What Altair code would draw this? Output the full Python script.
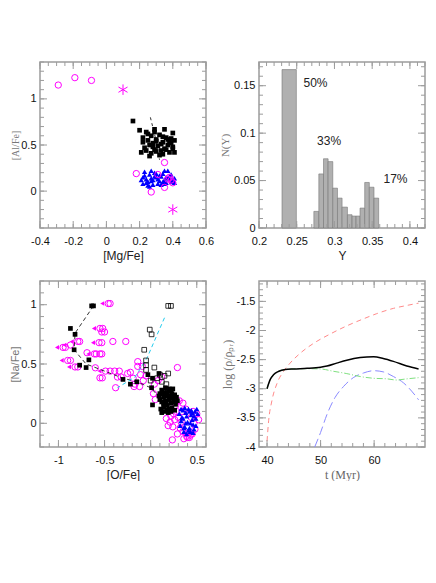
import altair as alt
import pandas as pd

# ---------------- Panel 1 : [Mg/Fe] vs [Al/Fe] ----------------
p1_circ_mg = [-0.29, -0.19, -0.09, 0.18, 0.27, 0.31, 0.35, 0.35, 0.37, 0.39, 0.40, 0.38]
p1_circ_al = [1.15, 1.23, 1.20, 0.19, -0.01, 0.18, 0.31, 0.04, 0.13, 0.12, 0.09, 0.15]
p1_star_mg = [0.10, 0.40]
p1_star_al = [1.10, -0.20]
p1_sq_mg = [0.16, 0.20, 0.24, 0.29, 0.35, 0.40, 0.39, 0.22, 0.25, 0.27, 0.30, 0.32, 0.34, 0.36, 0.38,
            0.41, 0.26, 0.28, 0.31, 0.33, 0.37, 0.23, 0.29, 0.35, 0.40, 0.21, 0.24, 0.27, 0.30, 0.34,
            0.38, 0.41, 0.26, 0.32, 0.36, 0.25, 0.28, 0.33, 0.39, 0.22, 0.30, 0.37, 0.34, 0.29, 0.40]
p1_sq_al = [0.76, 0.66, 0.64, 0.67, 0.67, 0.63, 0.57, 0.58, 0.55, 0.60, 0.56, 0.61, 0.53, 0.58, 0.54,
            0.55, 0.50, 0.52, 0.49, 0.51, 0.50, 0.47, 0.45, 0.46, 0.48, 0.42, 0.44, 0.41, 0.43, 0.40,
            0.42, 0.42, 0.38, 0.39, 0.45, 0.62, 0.48, 0.44, 0.52, 0.53, 0.54, 0.56, 0.59, 0.64, 0.46]
p1_tri_mg = [0.21, 0.23, 0.25, 0.27, 0.29, 0.31, 0.33, 0.35, 0.37, 0.39, 0.41, 0.22, 0.24, 0.26, 0.28,
             0.30, 0.32, 0.34, 0.36, 0.38, 0.40, 0.23, 0.25, 0.27, 0.29, 0.31, 0.33, 0.35, 0.37, 0.39,
             0.41, 0.22, 0.26, 0.30, 0.34, 0.38, 0.24, 0.28, 0.32, 0.36, 0.40, 0.27, 0.35]
p1_tri_al = [0.12, 0.17, 0.10, 0.14, 0.20, 0.08, 0.16, 0.12, 0.22, 0.10, 0.14, 0.08, 0.13, 0.18, 0.07,
             0.15, 0.11, 0.19, 0.09, 0.16, 0.12, 0.21, 0.06, 0.11, 0.16, 0.13, 0.07, 0.22, 0.14, 0.18,
             0.09, 0.15, 0.05, 0.19, 0.10, 0.13, 0.09, 0.12, 0.17, 0.15, 0.11, 0.22, 0.08]
p1_line_mg = [0.265, 0.295, 0.32]
p1_line_al = [0.80, 0.58, 0.34]

# ---------------- Panel 2 : histogram N(Y) ----------------
hist_y0 = [0.2305, 0.2727, 0.2793, 0.2855, 0.2916, 0.2978, 0.3040, 0.3101, 0.3172, 0.3233, 0.3286,
           0.3339, 0.3401, 0.3462, 0.3524]
hist_y1 = [0.2495, 0.2793, 0.2855, 0.2916, 0.2978, 0.3040, 0.3101, 0.3172, 0.3233, 0.3286, 0.3339,
           0.3401, 0.3462, 0.3524, 0.3586]
hist_n = [0.167, 0.0175, 0.057, 0.073, 0.070, 0.042, 0.0315, 0.022, 0.014, 0.0126, 0.0126,
          0.021, 0.048, 0.043, 0.0315]
pct_text = ["50%", "33%", "17%"]
pct_x = [0.259, 0.277, 0.365]
pct_y = [0.153, 0.0915, 0.0512]

# ---------------- Panel 3 : [O/Fe] vs [Na/Fe] ----------------
p3_sq_o = [-0.64, -0.62, -0.87, -0.82, -0.83, -0.67, -0.77, -0.70, -0.30, -0.22, -0.15, -0.03, 0.02,
           0.09, 0.01, 0.09, 0.02,
           0.10, 0.12, 0.14, 0.16, 0.18, 0.20, 0.22, 0.24, 0.12, 0.14, 0.16, 0.18, 0.20, 0.22, 0.24,
           0.26, 0.11, 0.15, 0.19, 0.23, 0.27, 0.13, 0.17, 0.21, 0.25, 0.28, 0.10, 0.14, 0.18, 0.22,
           0.26, 0.20, 0.15, 0.17, 0.29, 0.23, 0.12]
p3_sq_na = [0.99, 0.99, 0.80, 0.75, 0.62, 0.535, 0.49, 0.47, 0.37, 0.33, 0.35, 0.41, 0.38,
            0.42, 0.30, 0.23, 0.155,
            0.25, 0.28, 0.22, 0.30, 0.26, 0.20, 0.27, 0.29, 0.18, 0.14, 0.19, 0.15, 0.12, 0.17, 0.21,
            0.24, 0.12, 0.10, 0.09, 0.13, 0.16, 0.25, 0.23, 0.23, 0.18, 0.22, 0.20, 0.17, 0.11, 0.10,
            0.11, 0.29, 0.26, 0.17, 0.19, 0.25, 0.09]
p3_open_o = [0.19, 0.22, -0.01, 0.01, -0.07, -0.05, -0.05, 0.04, 0.19, 0.15, 0.00, 0.07, 0.12, 0.17,
             0.10, -0.05]
p3_open_na = [0.99, 0.99, 0.79, 0.75, 0.62, 0.53, 0.49, 0.47, 0.42, 0.40, 0.36, 0.38, 0.35, 0.33,
              0.41, 0.45]
p3_track_o = [-0.62, -0.82, -0.83, -0.70, -0.50, -0.30, -0.15, 0.0, 0.07]
p3_track_na = [0.99, 0.76, 0.62, 0.50, 0.44, 0.38, 0.35, 0.30, 0.24]
p3_cyan_o = [0.15, -0.04, -0.17, -0.36]
p3_cyan_na = [0.89, 0.55, 0.39, 0.30]
p3_circ_o = [-0.46, -0.44, -0.55, -0.52, -0.53, -0.50, -0.56, -0.53, -0.79, -0.77, -0.95, -0.925,
             -0.87, -0.61, -0.59, -0.55, -0.53, -0.90, -0.87, -0.82, -0.79, -0.49, -0.44,
             -0.41, -0.27, -0.69, -0.60, -0.39, -0.34, -0.55, -0.525, -0.36, -0.32, -0.38, -0.22,
             -0.19, -0.12, -0.14, -0.14, -0.09, -0.17, -0.11, -0.05, 0.04, 0.03, 0.29, 0.08, 0.12,
             -0.25, -0.08, 0.05, -0.18,
             0.235, 0.21, 0.19, 0.32, 0.39, 0.42, 0.52, 0.50, 0.31, 0.28, 0.30, 0.26, 0.24, 0.35,
             0.45, 0.47, 0.38, 0.44, 0.48, 0.36, 0.27, 0.22, 0.33, 0.41, 0.29, 0.46, 0.17, 0.35,
             0.40, 0.43, 0.25, 0.34]
p3_circ_na = [1.01, 1.01, 0.80, 0.80, 0.77, 0.77, 0.68, 0.68, 0.69, 0.69, 0.64, 0.64,
              0.66, 0.585, 0.585, 0.585, 0.585, 0.53, 0.53, 0.475, 0.475, 0.44, 0.44,
              0.69, 0.69, 0.595, 0.468, 0.44, 0.44, 0.383, 0.383, 0.39, 0.39, 0.30, 0.43,
              0.38, 0.31, 0.52, 0.48, 0.48, 0.33, 0.41, 0.40, 0.33, 0.25, 0.47, 0.36, 0.39,
              0.42, 0.36, 0.20, 0.31,
              -0.14, 0.01, -0.02, -0.04, -0.11, -0.12, 0.03, 0.08, 0.19, 0.10, 0.05, 0.03, -0.03,
              -0.07, -0.09, 0.00, 0.12, 0.05, -0.05, -0.13, 0.15, 0.06, 0.01, -0.08, -0.09, 0.10,
              0.04, 0.17, -0.12, -0.10, 0.08, 0.10]
p3_lim_o = [-0.46, -0.55, -0.56, -0.79, -0.95, -0.87, -0.61, -0.90, -0.82, -0.49]
p3_lim_na = [1.01, 0.80, 0.68, 0.69, 0.64, 0.66, 0.585, 0.53, 0.475, 0.44]
p3_tri_o = [0.31, 0.33, 0.35, 0.37, 0.39, 0.41, 0.43, 0.45, 0.47, 0.49, 0.32, 0.34, 0.36, 0.38, 0.40,
            0.42, 0.44, 0.46, 0.48, 0.50, 0.33, 0.37, 0.41, 0.45, 0.49, 0.35, 0.39, 0.43, 0.47, 0.51,
            0.38, 0.42, 0.46, 0.36, 0.44]
p3_tri_na = [0.08, 0.02, 0.11, -0.03, 0.06, 0.12, 0.00, 0.09, -0.05, 0.04, -0.02, 0.05, -0.07, 0.09,
             0.01, -0.04, 0.07, -0.08, 0.10, 0.12, 0.12, 0.13, -0.06, 0.03, -0.02, 0.04, -0.09, -0.07,
             0.06, 0.08, 0.00, 0.10, -0.01, -0.04, 0.11]

# ---------------- Panel 4 : log density vs time ----------------
blk_t = [40, 40.6, 41.2, 42.2, 43.4, 45, 47.5, 50, 51.2, 53, 54.9, 57.4, 59.9, 61.7, 63.6, 66.1, 68.3]
blk_v = [-3.0, -2.84, -2.76, -2.70, -2.67, -2.66, -2.65, -2.63, -2.61, -2.56, -2.51, -2.465, -2.45,
         -2.48, -2.53, -2.61, -2.66]
grn_t = [40, 40.6, 41.2, 42.2, 43.4, 45, 47.5, 50, 52.4, 54.9, 57.4, 59.9, 62.4, 64.2, 66.1, 68.3]
grn_v = [-3.0, -2.84, -2.76, -2.70, -2.67, -2.66, -2.655, -2.66, -2.70, -2.74, -2.79, -2.82, -2.83,
         -2.85, -2.83, -2.81]
red_t = [40, 40.3, 40.9, 41.9, 43.1, 44.3, 46.2, 48.7, 51.8, 54.9, 58, 60.5, 63.6, 66.1, 68.3]
red_v = [-3.9, -3.55, -3.21, -2.90, -2.70, -2.56, -2.39, -2.22, -2.06, -1.92, -1.80, -1.71, -1.62,
         -1.57, -1.53]
blu_t = [48.9, 50, 51.2, 52.7, 54.3, 56.1, 58, 59.9, 61.7, 63.6, 65.5, 67, 68.3]
blu_v = [-4.0, -3.75, -3.44, -3.15, -2.96, -2.81, -2.73, -2.69, -2.71, -2.79, -2.90, -3.04, -3.19]

# ---------------- styling helpers ----------------
GRAY = "#9c9c9c"
W, H = 166, 166
SANS = "Liberation Sans"
SERIF = "Liberation Serif"


def frange(a, b, step):
    n = int(round((b - a) / step))
    return [round(a + i * step, 6) for i in range(n + 1)]


def tick_layers(sx, sy, ax_x, ax_y, xmaj, xmin, ymaj, ymin):
    out = []
    for vals, ln in ((xmaj, 7), (xmin, 4)):
        d = pd.DataFrame({"x": vals})
        out.append(alt.Chart(d).mark_rule(color=GRAY, strokeWidth=1).encode(
            x=alt.X("x:Q", scale=sx, axis=ax_x), y=alt.value(H), y2=alt.value(H - ln)))
        out.append(alt.Chart(d).mark_rule(color=GRAY, strokeWidth=1).encode(
            x=alt.X("x:Q", scale=sx, axis=ax_x), y=alt.value(0), y2=alt.value(ln)))
    for vals, ln in ((ymaj, 7), (ymin, 4)):
        d = pd.DataFrame({"y": vals})
        out.append(alt.Chart(d).mark_rule(color=GRAY, strokeWidth=1).encode(
            y=alt.Y("y:Q", scale=sy, axis=ax_y), x=alt.value(0), x2=alt.value(ln)))
        out.append(alt.Chart(d).mark_rule(color=GRAY, strokeWidth=1).encode(
            y=alt.Y("y:Q", scale=sy, axis=ax_y), x=alt.value(W), x2=alt.value(W - ln)))
    return out


def xax(title, values, font=SANS, color="#222", size=12):
    return alt.Axis(title=title, values=values, labelExpr="datum.value + ''", titleFont=font,
                    titleColor=color, titleFontSize=size, titleFontWeight="normal",
                    labelFlush=False, labelOverlap=False, labelPadding=7, titlePadding=4)


def yax(title, values, font=SANS, color="#777", size=11, tpad=0):
    return alt.Axis(title=title, values=values, labelExpr="datum.value + ''", titleFont=font,
                    titleColor=color, titleFontSize=size, titleFontWeight="normal",
                    labelFlush=False, labelOverlap=False, labelPadding=4, titlePadding=tpad)


# ---------- panel 1 ----------
sx1 = alt.Scale(domain=[-0.4, 0.6], nice=False, zero=False)
sy1 = alt.Scale(domain=[-0.4, 1.4], nice=False, zero=False)
ax1 = xax("[Mg/Fe]", [-0.4, -0.2, 0, 0.2, 0.4, 0.6])
ay1 = yax("[Al/Fe]", [0, 0.5, 1], font=SERIF, size=10)
X1 = lambda f: alt.X(f, type="quantitative", scale=sx1, axis=ax1)
Y1 = lambda f: alt.Y(f, type="quantitative", scale=sy1, axis=ay1)

p1 = alt.layer(
    alt.Chart(pd.DataFrame({"x": p1_sq_mg, "y": p1_sq_al})).mark_square(
        color="black", size=22, opacity=1).encode(x=X1("x"), y=Y1("y")),
    alt.Chart(pd.DataFrame({"x": p1_line_mg, "y": p1_line_al})).mark_line(
        color="black", strokeWidth=0.8, strokeDash=[3, 3]).encode(x=X1("x"), y=Y1("y")),
    alt.Chart(pd.DataFrame({"x": p1_tri_mg, "y": p1_tri_al})).mark_point(
        shape="triangle-up", filled=True, color="blue", size=28, opacity=1).encode(x=X1("x"), y=Y1("y")),
    alt.Chart(pd.DataFrame({"x": p1_circ_mg, "y": p1_circ_al})).mark_point(
        shape="circle", filled=False, color="magenta", size=40, strokeWidth=1, opacity=1).encode(
        x=X1("x"), y=Y1("y")),
    alt.Chart(pd.DataFrame({"x": p1_star_mg, "y": p1_star_al})).mark_point(
        shape="M0,-1L0,1M-0.866,-0.5L0.866,0.5M-0.866,0.5L0.866,-0.5", filled=False,
        color="magenta", size=110, strokeWidth=1, opacity=1).encode(x=X1("x"), y=Y1("y")),
    *tick_layers(sx1, sy1, ax1, ay1, frange(-0.4, 0.6, 0.2), frange(-0.4, 0.6, 0.05),
                 [0, 0.5, 1.0], frange(-0.4, 1.4, 0.1)),
).properties(width=W, height=H)

# ---------- panel 2 ----------
sx2 = alt.Scale(domain=[0.2, 0.42], nice=False, zero=False)
sy2 = alt.Scale(domain=[0, 0.175], nice=False, zero=False)
ax2 = xax("Y", [0.2, 0.25, 0.3, 0.35, 0.4])
ay2 = yax("N(Y)", [0, 0.05, 0.1, 0.15], font=SERIF, size=11, tpad=3)
hist = pd.DataFrame({"x": hist_y0, "x2": hist_y1, "y": hist_n})
pct = pd.DataFrame({"x": pct_x, "y": pct_y, "t": pct_text})
p2 = alt.layer(
    alt.Chart(hist).mark_rect(fill="#b0b0b0", stroke="#777777", strokeWidth=0.6).encode(
        x=alt.X("x:Q", scale=sx2, axis=ax2),
        x2="x2:Q",
        y=alt.Y("y:Q", scale=sy2, axis=ay2),
        y2=alt.datum(0)),
    alt.Chart(pct).mark_text(align="left", baseline="middle", fontSize=12, font=SANS,
                             color="#222").encode(
        x=alt.X("x:Q", scale=sx2, axis=ax2), y=alt.Y("y:Q", scale=sy2, axis=ay2), text="t:N"),
    *tick_layers(sx2, sy2, ax2, ay2, frange(0.2, 0.4, 0.05), frange(0.2, 0.42, 0.01),
                 frange(0, 0.15, 0.05), frange(0, 0.17, 0.01)),
).properties(width=W, height=H)

# ---------- panel 3 ----------
sx3 = alt.Scale(domain=[-1.2, 0.6], nice=False, zero=False)
sy3 = alt.Scale(domain=[-0.2, 1.2], nice=False, zero=False)
ax3 = xax("[O/Fe]", [-1, -0.5, 0, 0.5])
ay3 = yax("[Na/Fe]", [0, 0.5, 1], size=11)
X3 = lambda f: alt.X(f, type="quantitative", scale=sx3, axis=ax3)
Y3 = lambda f: alt.Y(f, type="quantitative", scale=sy3, axis=ay3)
p3 = alt.layer(
    alt.Chart(pd.DataFrame({"x": p3_circ_o, "y": p3_circ_na})).mark_point(
        shape="circle", filled=False, color="magenta", size=40, strokeWidth=1, opacity=1).encode(
        x=X3("x"), y=Y3("y")),
    alt.Chart(pd.DataFrame({"x": p3_lim_o, "y": p3_lim_na})).mark_point(
        shape="triangle-left", filled=True, color="magenta", size=22, opacity=1, xOffset=-6).encode(
        x=X3("x"), y=Y3("y")),
    alt.Chart(pd.DataFrame({"x": p3_tri_o, "y": p3_tri_na})).mark_point(
        shape="triangle-up", filled=True, color="blue", size=28, opacity=1).encode(x=X3("x"), y=Y3("y")),
    alt.Chart(pd.DataFrame({"x": p3_track_o, "y": p3_track_na, "o": list(range(len(p3_track_o)))})
              ).mark_line(color="black", strokeWidth=0.8, strokeDash=[4, 3]).encode(
        x=X3("x"), y=Y3("y"), order="o:Q"),
    alt.Chart(pd.DataFrame({"x": p3_cyan_o, "y": p3_cyan_na, "o": list(range(len(p3_cyan_o)))})
              ).mark_line(color="#22ccee", strokeWidth=1, strokeDash=[4, 3]).encode(
        x=X3("x"), y=Y3("y"), order="o:Q"),
    alt.Chart(pd.DataFrame({"x": p3_sq_o, "y": p3_sq_na})).mark_square(
        color="black", size=22, opacity=1).encode(x=X3("x"), y=Y3("y")),
    alt.Chart(pd.DataFrame({"x": p3_open_o, "y": p3_open_na})).mark_square(
        filled=False, color="black", size=22, strokeWidth=0.8, opacity=1).encode(x=X3("x"), y=Y3("y")),
    *tick_layers(sx3, sy3, ax3, ay3, frange(-1.0, 0.5, 0.5), frange(-1.2, 0.6, 0.1),
                 [0, 0.5, 1.0], frange(-0.2, 1.2, 0.1)),
).properties(width=W, height=H)

# ---------- panel 4 ----------
sx4 = alt.Scale(domain=[38.5, 69.5], nice=False, zero=False)
sy4 = alt.Scale(domain=[-4, -1.15], nice=False, zero=False)
ax4 = xax("t  (Myr)", [40, 50, 60], font=SERIF, color="#666")
ay4 = yax("log (ρ/ρₚᵣ)", [-4, -3.5, -3, -2.5, -2, -1.5], font=SERIF, size=12, tpad=2)
X4 = lambda f: alt.X(f, type="quantitative", scale=sx4, axis=ax4)
Y4 = lambda f: alt.Y(f, type="quantitative", scale=sy4, axis=ay4)


def curve(t, v, color, dash, width):
    kw = dict(color=color, strokeWidth=width, interpolate="monotone", clip=True)
    if dash:
        kw["strokeDash"] = dash
    return alt.Chart(pd.DataFrame({"x": t, "y": v})).mark_line(**kw).encode(x=X4("x"), y=Y4("y"))


p4 = alt.layer(
    curve(red_t, red_v, "#ff8a8a", [5, 4], 1),
    curve(blu_t, blu_v, "#8a8aff", [9, 4], 1),
    curve(grn_t, grn_v, "#7fe07f", [6, 2, 1, 2], 1),
    curve(blk_t, blk_v, "black", None, 1.5),
    *tick_layers(sx4, sy4, ax4, ay4, frange(40, 60, 10), frange(40, 68, 2),
                 frange(-4, -1.5, 0.5), frange(-4, -1.2, 0.1)),
).properties(width=W, height=H)

chart = alt.concat(p1, p2, p3, p4, columns=2, spacing=53, bounds="flush").properties(
    padding={"top": 52, "left": 0, "right": 0, "bottom": 0}
).configure_view(stroke=GRAY, strokeWidth=1.5).configure_axis(
    domain=False, ticks=False, grid=False, labelFont=SANS, labelFontSize=11, labelColor="#111"
)

chart.save("out.html", embed_options={"renderer": "svg", "actions": False})
